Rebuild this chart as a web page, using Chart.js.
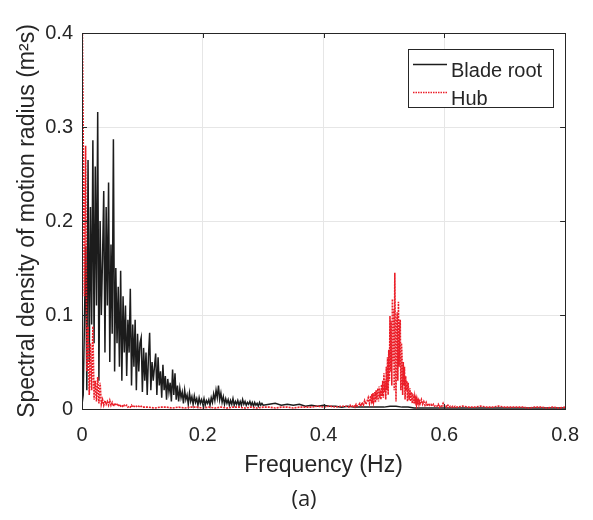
<!DOCTYPE html>
<html>
<head>
<meta charset="utf-8">
<script src="https://cdn.jsdelivr.net/npm/chart.js@4.4.1/dist/chart.umd.min.js"></script>
<style>
  html, body { margin: 0; padding: 0; background: #fff; }
  #wrap { width: 593px; height: 520px; }
</style>
</head>
<body>
<div id="wrap"><canvas id="psd" width="593" height="520"></canvas></div>
<script>
// ── Data ──────────────────────────────────────────────────────────
const xTicks = [0, 0.2, 0.4, 0.6, 0.8]
const yTicks = [0, 0.1, 0.2, 0.3, 0.4]
const panelLabel = "(a)"

// Blade root, 0 – 0.300 Hz every 0.002 Hz
const bladeLow = [
  0.005,0.015,0.090,0.173,0.020,0.265,0.050,0.215,0.090,0.286,
  0.070,0.258,0.110,0.316,0.030,0.200,0.100,0.160,0.232,0.060,
  0.215,0.110,0.241,0.050,0.175,0.080,0.287,0.040,0.150,0.070,
  0.130,0.045,0.147,0.030,0.120,0.060,0.110,0.035,0.095,0.060,
  0.128,0.025,0.090,0.045,0.095,0.020,0.080,0.040,0.070,0.076,
  0.018,0.065,0.030,0.060,0.015,0.055,0.081,0.020,0.050,0.030,
  0.045,0.059,0.015,0.055,0.025,0.040,0.012,0.047,0.020,0.035,
  0.010,0.032,0.018,0.028,0.008,0.042,0.015,0.038,0.010,0.025,
  0.008,0.022,0.012,0.018,0.006,0.020,0.010,0.015,0.005,0.017,
  0.008,0.013,0.005,0.014,0.007,0.011,0.004,0.012,0.006,0.010,
  0.005,0.011,0.004,0.009,0.006,0.010,0.004,0.012,0.007,0.016,
  0.009,0.020,0.012,0.025,0.010,0.017,0.007,0.013,0.005,0.011,
  0.006,0.010,0.004,0.009,0.005,0.011,0.004,0.008,0.005,0.009,
  0.004,0.008,0.004,0.010,0.005,0.008,0.004,0.007,0.005,0.008,
  0.004,0.007,0.003,0.007,0.004,0.006,0.003,0.007,0.004,0.006,
  0.004
]
// Blade root, 0.31 – 0.80 Hz every 0.01 Hz
const bladeTail = [
  0.005,0.006,0.004,0.005,0.004,0.005,0.003,0.004,0.003,0.004,
  0.003,0.003,0.002,0.003,0.002,0.002,0.002,0.002,0.002,0.002,
  0.003,0.003,0.002,0.002,0.001,0.001,0.001,0.001,0.001,0.001,
  0.001,0.001,0.001,0.001,0.001,0.001,0.001,0.001,0.001,0.001,
  0.001,0.001,0.001,0.001,0.001,0.001,0.001,0.001,0.001,0.001
]

// Hub, 0 – 0.100 Hz every 0.002 Hz
const hubLow = [
  0.450,0.290,0.120,0.280,0.040,0.088,0.015,0.070,0.020,0.088,
  0.010,0.030,0.008,0.034,0.006,0.028,0.005,0.010,0.004,0.009,
  0.005,0.008,0.004,0.009,0.004,0.007,0.003,0.006,0.004,0.005,
  0.003,0.005,0.003,0.004,0.002,0.004,0.003,0.004,0.002,0.003,
  0.002,0.004,0.002,0.003,0.002,0.003,0.002,0.003,0.002,0.003,
  0.002
]
// Hub, 0.11 – 0.43 Hz every 0.01 Hz
const hubMid = [
  0.002,0.001,0.002,0.002,0.001,0.002,0.001,0.002,0.002,0.001,
  0.002,0.001,0.002,0.001,0.002,0.002,0.001,0.002,0.001,0.002,
  0.002,0.001,0.002,0.002,0.001,0.002,0.002,0.002,0.003,0.002,
  0.003,0.002,0.003
]
// Hub, 0.440 – 0.478 Hz every 0.002 Hz
const hubRise = [
  0.003,0.002,0.004,0.002,0.003,0.004,0.002,0.005,0.003,0.004,
  0.006,0.003,0.007,0.004,0.009,0.005,0.008,0.012,0.006,0.014
]
// Hub, 0.479 – 0.560 Hz every 0.001 Hz (the 0.52 Hz peak)
const hubPeak = [
  0.010,0.016,0.006,0.017,0.008,0.012,0.018,0.007,0.020,0.010,
  0.015,0.022,0.008,0.024,0.012,0.020,0.010,0.026,0.014,0.030,
  0.012,0.038,0.018,0.030,0.010,0.045,0.020,0.055,0.015,0.063,
  0.030,0.099,0.040,0.094,0.025,0.117,0.050,0.106,0.020,0.145,
  0.060,0.008,0.090,0.103,0.030,0.114,0.045,0.083,0.095,0.020,
  0.070,0.056,0.015,0.050,0.025,0.045,0.010,0.035,0.020,0.030,
  0.008,0.028,0.017,0.010,0.022,0.008,0.018,0.012,0.006,0.015,
  0.014,0.006,0.013,0.008,0.011,0.005,0.010,0.007,0.009,0.005,
  0.008,0.006
]
// Hub, 0.562 – 0.620 Hz every 0.002 Hz
const hubFall = [
  0.010,0.005,0.008,0.004,0.007,0.003,0.006,0.004,0.005,0.003,
  0.005,0.003,0.004,0.003,0.005,0.002,0.004,0.003,0.006,0.003,
  0.004,0.002,0.004,0.002,0.003,0.002,0.003,0.002,0.003,0.002
]
// Hub, 0.63 – 0.80 Hz every 0.01 Hz
const hubTail = [
  0.003,0.002,0.002,0.003,0.002,0.002,0.003,0.002,0.002,0.002,
  0.002,0.001,0.002,0.002,0.001,0.002,0.001,0.002
]

// frequency grid for a segment: start, step, values
function seg(start, step, values) {
  return values.map((v, i) => ({ x: +(start + i * step).toFixed(4), y: v }))
}

const bladePts = [...seg(0, 0.002, bladeLow), ...seg(0.31, 0.01, bladeTail)]
const hubPts = [
  ...seg(0, 0.002, hubLow), ...seg(0.11, 0.01, hubMid),
  ...seg(0.44, 0.002, hubRise), ...seg(0.479, 0.001, hubPeak),
  ...seg(0.562, 0.002, hubFall), ...seg(0.63, 0.01, hubTail)
]

const FONT = "'Liberation Sans', Arial, sans-serif"
const INK = "#262626"
const BLADE = "#1c1c1c"
const HUB = "rgb(235,30,40)"

// ── MATLAB-style box, inner ticks, legend and panel label ─────────
const axesBox = {
  id: "axesBox",
  afterDatasetsDraw(chart) {
    const { ctx, chartArea: a, scales: { x, y } } = chart
    ctx.save()
    ctx.strokeStyle = INK
    ctx.lineWidth = 1
    ctx.beginPath()
    xTicks.forEach(v => {
      const px = Math.round(x.getPixelForValue(v)) + 0.5
      ctx.moveTo(px, a.bottom); ctx.lineTo(px, a.bottom - 5)
      ctx.moveTo(px, a.top); ctx.lineTo(px, a.top + 5)
    })
    yTicks.forEach(v => {
      const py = Math.round(y.getPixelForValue(v)) + 0.5
      ctx.moveTo(a.left, py); ctx.lineTo(a.left + 5, py)
      ctx.moveTo(a.right, py); ctx.lineTo(a.right - 5, py)
    })
    ctx.stroke()
    ctx.strokeRect(Math.round(a.left) + 0.5, Math.round(a.top) + 0.5,
                   Math.round(a.right - a.left), Math.round(a.bottom - a.top))
    ctx.restore()
  },
  afterDraw(chart) {
    const { ctx } = chart
    const box = { x: 408.5, y: 49.5, w: 145, h: 58 }
    ctx.save()
    ctx.fillStyle = "#fff"
    ctx.fillRect(box.x, box.y, box.w, box.h)
    ctx.strokeStyle = INK
    ctx.lineWidth = 1
    ctx.strokeRect(box.x, box.y, box.w, box.h)

    const rows = [
      { color: BLADE, dash: [], ly: 64.5, ty: 71 },
      { color: HUB, dash: [1.5, 1], ly: 92.5, ty: 99 }
    ]
    chart.data.datasets.forEach((ds, i) => {
      const r = rows[i]
      ctx.strokeStyle = r.color
      ctx.lineWidth = 1.3
      ctx.setLineDash(r.dash)
      ctx.beginPath()
      ctx.moveTo(413, r.ly); ctx.lineTo(447, r.ly)
      ctx.stroke()
      ctx.setLineDash([])
      ctx.fillStyle = INK
      ctx.font = `20px ${FONT}`
      ctx.textBaseline = "middle"
      ctx.fillText(ds.label, 451, r.ty)
    })
    // panel label under the axis title
    ctx.font = "22px 'Open Sans', 'Noto Sans', sans-serif"
    ctx.textAlign = "center"
    ctx.fillText(panelLabel, 304, 500)
    ctx.restore()
  }
}

new Chart(document.getElementById("psd"), {
  type: "line",
  data: {
    datasets: [
      {
        label: "Blade root",
        data: bladePts,
        borderColor: BLADE,
        borderWidth: 1.5,
        pointRadius: 0,
        tension: 0,
        order: 1,
      },
      {
        label: "Hub",
        data: hubPts,
        borderColor: HUB,
        borderWidth: 1.6,
        borderDash: [2, 1],
        pointRadius: 0,
        tension: 0,
        order: 0,
      }
    ]
  },
  options: {
    responsive: false,
    animation: false,
    devicePixelRatio: 1,
    layout: { padding: { top: 33, right: 23, left: 0, bottom: 33.4 } },
    plugins: {
      legend: { display: false },
      tooltip: { enabled: false },
      title: { display: false }
    },
    scales: {
      x: {
        type: "linear",
        min: 0,
        max: 0.8,
        afterBuildTicks: s => { s.ticks = xTicks.map(v => ({ value: v })) },
        afterFit: s => { s.height = 77.6 },
        ticks: {
          font: { family: FONT, size: 20 },
          color: INK,
          padding: 14,
          maxRotation: 0,
          callback: v => String(v)
        },
        grid: { color: "#e6e6e6", drawTicks: false },
        border: { display: false },
        title: {
          display: true,
          text: "Frequency (Hz)",
          color: INK,
          font: { family: FONT, size: 23 },
          padding: { top: 0, bottom: 7 }
        }
      },
      y: {
        min: 0,
        max: 0.4,
        afterBuildTicks: s => { s.ticks = yTicks.map(v => ({ value: v })) },
        afterFit: s => { s.width = 82 },
        ticks: {
          font: { family: FONT, size: 20 },
          color: INK,
          padding: 9,
          callback: v => String(v)
        },
        grid: { color: "#e6e6e6", drawTicks: false },
        border: { display: false },
        title: {
          display: true,
          text: "Spectral density of motion radius (m²s)",
          color: INK,
          font: { family: FONT, size: 23 },
          padding: { top: 14, bottom: 0 }
        }
      }
    }
  },
  plugins: [axesBox]
})
</script>
</body>
</html>
